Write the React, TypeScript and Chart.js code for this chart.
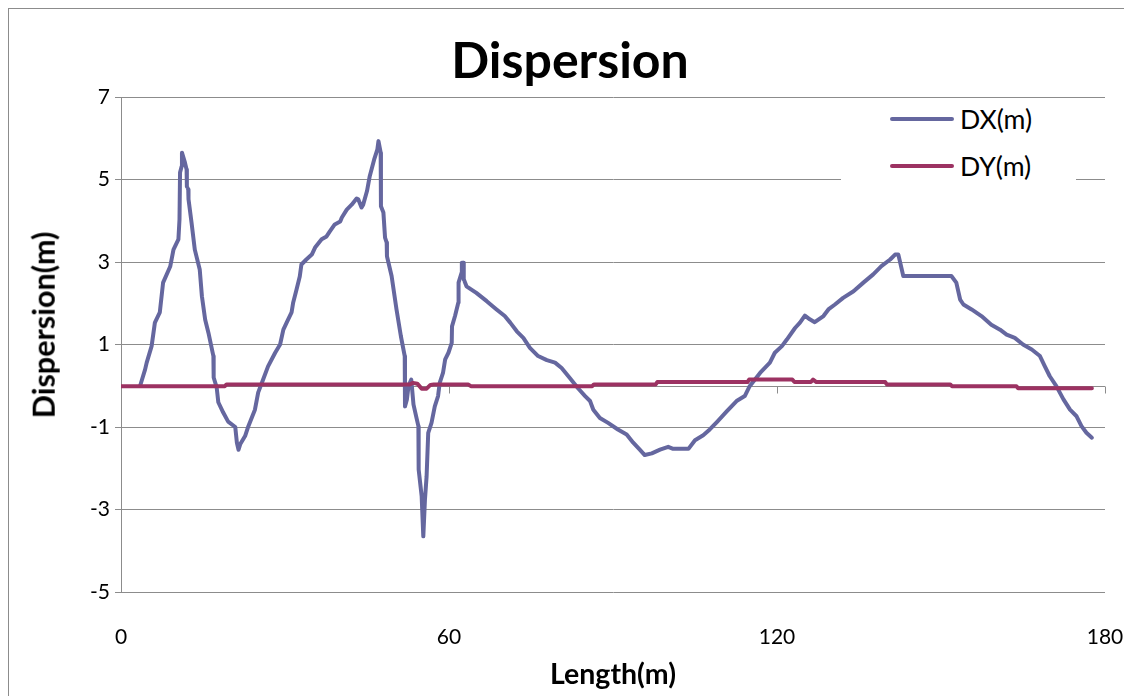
import React, { useEffect, useRef } from "react";
import { Chart, registerables } from "chart.js";

Chart.register(...registerables);

const chartTitle = "Dispersion";
const xTitle = "Length(m)";
const yTitle = "Dispersion(m)";
const seriesNames = ["DX(m)", "DY(m)"];

const dxLen = [
  3.5, 4.4, 4.7, 5.6, 6.2, 7.1, 7.7, 9.0, 9.6, 10.5, 10.7, 10.8, 11.1, 11.15, 11.7, 12.0, 12.05, 12.3, 12.35,
  12.9, 13.5, 14.4, 14.8, 15.4, 16.0, 16.9, 16.95, 17.5, 17.8, 18.7, 19.6, 20.9, 21.2, 21.5, 21.8, 22.7, 23.3,
  24.5, 25.1, 26.0, 26.9, 28.2, 29.1, 29.7, 30.3, 31.2, 31.5, 32.1, 32.7, 33.0, 33.9, 34.9, 35.5, 36.7, 37.6,
  38.2, 39.1, 40.1, 40.4, 41.3, 42.2, 43.1, 43.4, 44.0, 44.3, 45.0, 45.5, 46.3, 46.9, 47.1, 47.5, 47.55, 48.0,
  48.3, 48.6, 48.65, 49.5, 50.4, 51.2, 51.9, 51.95, 52.3, 52.6, 53.1, 53.5, 54.0, 54.4, 54.45, 55.0, 55.3, 55.6,
  55.9, 56.2, 56.8, 57.4, 58.0, 58.3, 58.9, 59.3, 59.9, 60.5, 60.55, 61.1, 61.7, 61.75, 62.3, 62.35, 62.6, 62.7,
  63.2, 65.0, 66.9, 68.7, 70.2, 71.2, 72.4, 73.6, 74.8, 76.3, 77.9, 79.4, 80.6, 82.1, 83.6, 84.9, 85.8, 86.4,
  87.6, 89.1, 90.9, 92.5, 93.7, 94.9, 95.8, 97.1, 98.6, 100.1, 101.0, 103.8, 105.0, 106.5, 107.7, 109.0, 110.8,
  112.6, 114.1, 115.0, 116.9, 118.7, 119.6, 120.9, 121.8, 123.3, 124.2, 125.1, 126.0, 126.9, 128.5, 129.4,
  130.6, 132.1, 134.0, 135.8, 137.6, 139.1, 140.7, 141.6, 142.2, 143.1, 151.9, 152.8, 153.5, 154.1, 155.6,
  157.4, 159.2, 160.8, 162.0, 163.5, 165.0, 166.6, 168.1, 169.0, 169.9, 171.1, 172.4, 173.6, 174.8, 175.7,
  176.6, 177.6,
];
const dxVal = [
  0.0, 0.39, 0.56, 0.96, 1.53, 1.78, 2.5, 2.89, 3.3, 3.55, 4.03, 5.17, 5.32, 5.65, 5.41, 5.24, 4.83, 4.76, 4.52,
  3.96, 3.3, 2.82, 2.17, 1.6, 1.28, 0.72, 0.2, -0.04, -0.4, -0.65, -0.87, -1.0, -1.38, -1.55, -1.42, -1.22, -0.98,
  -0.58, -0.16, 0.15, 0.47, 0.8, 1.0, 1.36, 1.53, 1.78, 2.02, 2.33, 2.65, 2.94, 3.06, 3.18, 3.35, 3.55, 3.62,
  3.74, 3.91, 3.98, 4.08, 4.27, 4.39, 4.54, 4.52, 4.32, 4.39, 4.72, 5.08, 5.48, 5.73, 5.93, 5.65, 4.35, 4.2,
  3.59, 3.47, 3.14, 2.66, 1.85, 1.2, 0.72, -0.5, -0.33, 0.0, 0.15, -0.45, -0.75, -0.98, -2.03, -2.68, -3.65, -2.76,
  -2.2, -1.14, -0.9, -0.5, -0.25, 0.07, 0.31, 0.64, 0.8, 1.04, 1.44, 1.69, 2.01, 2.5, 2.74, 2.98, 2.98, 2.58,
  2.41, 2.25, 2.05, 1.85, 1.69, 1.53, 1.32, 1.16, 0.92, 0.72, 0.62, 0.56, 0.43, 0.19, -0.06, -0.25, -0.37, -0.58,
  -0.78, -0.9, -1.06, -1.18, -1.38, -1.55, -1.68, -1.64, -1.55, -1.48, -1.53, -1.53, -1.32, -1.2, -1.06, -0.88, -0.62,
  -0.37, -0.25, -0.01, 0.31, 0.56, 0.8, 0.96, 1.12, 1.4, 1.53, 1.7, 1.61, 1.54, 1.69, 1.85,
  1.97, 2.13, 2.29, 2.5, 2.7, 2.9, 3.06, 3.18, 3.18, 2.66, 2.66, 2.5, 2.09, 1.97, 1.85,
  1.69, 1.48, 1.36, 1.24, 1.16, 1.0, 0.88, 0.72, 0.47, 0.23, -0.01, -0.33, -0.58, -0.74, -0.98,
  -1.14, -1.26,
];

const dyLen = [
  0, 19, 19.3, 52.8, 53.4, 54.2, 55.0, 55.9, 56.6, 57.2, 63.5, 64.0, 86.2, 86.5, 97.8, 98.1, 114.6, 114.9,
  122.8, 123.2, 126.2, 126.6, 127.2, 139.8, 140.1, 151.7, 152.0, 163.8, 164.1, 177.6,
];
const dyVal = [
  -0.01, -0.01, 0.03, 0.03, 0.07, 0.05, -0.07, -0.07, 0.02, 0.03, 0.03, -0.01, -0.01, 0.03, 0.03, 0.09, 0.09, 0.15,
  0.15, 0.09, 0.09, 0.15, 0.09, 0.09, 0.03, 0.03, -0.01, -0.01, -0.06, -0.06,
];

const xTickMin = 0;
const xTickMax = 180;
const xTickStep = 60;
const yTickMin = -5;
const yTickMax = 7;
const yTickStep = 2;

const colors = ["#65679F", "#9C3262"];
const gridColor = "#8C8C8C";
const fontFamily = "Lato, 'Open Sans', sans-serif";

const zeroAxisPlugin = {
  id: "zeroAxis",
  beforeDatasetsDraw(chart: any) {
    const { ctx, chartArea, scales } = chart;
    const y = Math.round(scales.y.getPixelForValue(0)) + 0.5;
    ctx.save();
    ctx.strokeStyle = gridColor;
    ctx.lineWidth = 1;
    ctx.beginPath();
    ctx.moveTo(chartArea.left, y);
    ctx.lineTo(chartArea.right, y);
    scales.x.ticks.forEach((t: any) => {
      const x = Math.round(scales.x.getPixelForValue(t.value)) + 0.5;
      ctx.moveTo(x, y);
      ctx.lineTo(x, y + 7);
    });
    ctx.stroke();
    ctx.restore();
  },
};

export default function App() {
  const ref = useRef<HTMLCanvasElement>(null);

  useEffect(() => {
    document.body.style.overflow = "hidden";
    const canvas = ref.current;
    if (!canvas) return;
    const chart = new Chart(canvas, {
      type: "line",
      data: {
        datasets: [
          {
            label: seriesNames[0],
            data: dxLen.map((x, i) => ({ x, y: dxVal[i] })),
            borderColor: colors[0],
            backgroundColor: colors[0],
            borderWidth: 4,
            pointRadius: 0,
            tension: 0,
            borderJoinStyle: "round",
            borderCapStyle: "round",
            order: 1,
          },
          {
            label: seriesNames[1],
            data: dyLen.map((x, i) => ({ x, y: dyVal[i] })),
            borderColor: colors[1],
            backgroundColor: colors[1],
            borderWidth: 4,
            pointRadius: 0,
            tension: 0,
            borderJoinStyle: "round",
            borderCapStyle: "round",
            order: 0,
          },
        ],
      },
      plugins: [zeroAxisPlugin],
      options: {
        animation: false,
        responsive: false,
        maintainAspectRatio: false,
        layout: { padding: { left: 0, top: 0, right: 0, bottom: 17 } },
        plugins: {
          legend: { display: false },
          tooltip: { enabled: false },
          title: {
            display: true,
            text: chartTitle,
            color: "#000",
            font: { family: fontFamily, size: 50, weight: "bold", lineHeight: 1.2 },
            padding: { top: 23, bottom: 5 },
          },
        },
        scales: {
          x: {
            type: "linear",
            min: xTickMin,
            max: xTickMax,
            ticks: {
              stepSize: xTickStep,
              color: "#000",
              font: { family: fontFamily, size: 21 },
              padding: 33,
              maxRotation: 0,
            },
            grid: { display: false, drawTicks: false },
            border: { display: false },
            title: {
              display: true,
              text: xTitle,
              color: "#000",
              font: { family: fontFamily, size: 28.5, weight: "bold", lineHeight: 1.2 },
              padding: { top: 0, bottom: 0 },
            },
            afterFit(scale: any) {
              scale.height = 100;
              scale.paddingLeft = 0;
              scale.paddingRight = 0;
            },
          },
          y: {
            min: yTickMin,
            max: yTickMax,
            ticks: {
              stepSize: yTickStep,
              color: "#000",
              font: { family: fontFamily, size: 21 },
              padding: 5,
            },
            grid: { color: gridColor, lineWidth: 1, tickLength: 6, drawTicks: true },
            border: { display: true, color: gridColor, width: 1 },
            title: { display: false },
            afterFit(scale: any) {
              scale.width = 112;
              scale.paddingTop = 0;
              scale.paddingBottom = 0;
            },
          },
          yRight: {
            position: "right",
            display: true,
            min: yTickMin,
            max: yTickMax,
            ticks: { display: false },
            grid: { display: false, drawTicks: false },
            border: { display: false },
            afterFit(scale: any) {
              scale.width = 26;
              scale.paddingTop = 0;
              scale.paddingBottom = 0;
            },
          },
        },
      },
    } as any);
    return () => chart.destroy();
  }, []);

  return (
    <div
      style={{
        position: "relative",
        width: 1122,
        height: 700,
        border: "1px solid #8C8C8C",
        background: "#fff",
      }}
    >
      <canvas ref={ref} width={1122} height={700} style={{ display: "block" }} />
      <div
        style={{
          position: "absolute",
          left: 34,
          top: 316,
          transform: "translate(-50%, -50%) rotate(-90deg)",
          whiteSpace: "nowrap",
          fontFamily: fontFamily,
          fontWeight: "bold",
          fontSize: 30.5,
          lineHeight: 1.2,
          color: "#000",
        }}
      >
        {yTitle}
      </div>
      <div
        style={{
          position: "absolute",
          left: 832,
          top: 89,
          width: 235,
          height: 95,
          background: "#fff",
          fontFamily: fontFamily,
          fontSize: 26.6,
          color: "#000",
        }}
      >
        {seriesNames.map((name, i) => (
          <div
            key={name}
            style={{
              position: "absolute",
              left: 49,
              top: i === 0 ? 5 : 52,
              height: 32,
              display: "flex",
              alignItems: "center",
            }}
          >
            <span
              style={{
                display: "inline-block",
                width: 64,
                height: 4,
                borderRadius: 2,
                background: colors[i],
                marginRight: 6,
              }}
            />
            <span>{name}</span>
          </div>
        ))}
      </div>
    </div>
  );
}
